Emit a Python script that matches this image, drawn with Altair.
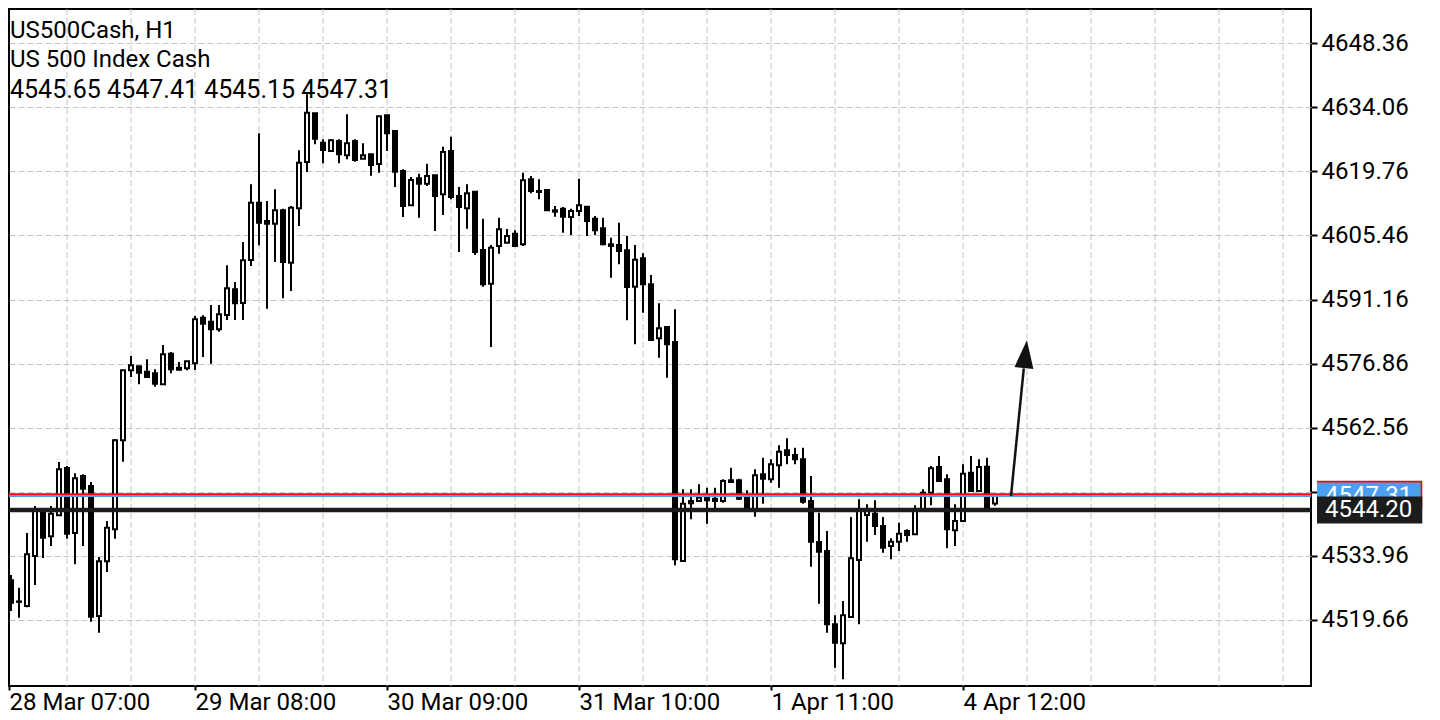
import altair as alt
import pandas as pd

# ---------------- data (H1 candles, bars 1..124 after the 28 Mar 07:00 bar) ----------------
opens = [4528.52, 4523.80, 4522.78, 4533.94, 4543.60, 4538.33, 4543.02, 4553.57, 4539.07, 4551.79,
         4549.56, 4520.55, 4532.76, 4539.90, 4559.75, 4575.37, 4576.26, 4575.06, 4574.70, 4572.24,
         4579.07, 4575.95, 4575.81, 4576.93, 4587.10, 4586.21, 4584.52, 4587.71, 4593.44, 4590.38,
         4599.98, 4612.76, 4608.68, 4608.07, 4611.06, 4599.37, 4611.51, 4621.84, 4632.70, 4626.15,
         4624.29, 4626.52, 4623.33, 4626.52, 4622.58, 4623.56, 4621.39, 4632.26, 4628.75, 4619.83,
         4612.18, 4618.20, 4617.00, 4618.87, 4614.63, 4624.29, 4614.25, 4611.51, 4615.21, 4602.21,
         4594.69, 4603.10, 4603.84, 4605.84, 4603.48, 4617.98, 4615.37, 4615.59, 4611.06, 4611.42,
         4609.57, 4610.91, 4611.87, 4609.19, 4607.05, 4603.48, 4603.32, 4602.14, 4594.02, 4600.36,
         4594.56, 4582.51, 4585.03, 4581.68, 4532.82, 4546.21, 4546.21, 4547.17, 4546.72, 4546.21,
         4550.83, 4550.83, 4547.10, 4544.36, 4552.17, 4551.05, 4554.17, 4557.52, 4556.47, 4555.51,
         4546.21, 4537.06, 4535.05, 4518.70, 4514.46, 4520.33, 4533.05, 4543.09, 4543.38, 4540.63,
         4536.17, 4537.13, 4539.52, 4538.78, 4544.36, 4548.06, 4553.79, 4551.05, 4539.67, 4541.75,
         4552.52, 4548.44, 4553.86, 4545.65]
highs = [4529.70, 4526.87, 4539.07, 4545.09, 4544.00, 4545.09, 4554.91, 4554.02, 4552.39, 4552.17,
         4550.45, 4533.72, 4541.75, 4559.97, 4575.44, 4578.56, 4576.30, 4577.82, 4575.59, 4581.01,
         4579.45, 4577.22, 4577.40, 4587.48, 4587.64, 4589.94, 4589.94, 4598.79, 4595.07, 4603.99,
         4616.86, 4628.24, 4613.14, 4615.75, 4611.42, 4612.02, 4624.45, 4636.94, 4632.80, 4626.90,
         4626.90, 4626.90, 4632.48, 4626.90, 4626.01, 4623.60, 4632.10, 4632.30, 4628.80, 4620.21,
         4618.49, 4619.23, 4621.46, 4618.90, 4625.25, 4627.48, 4616.26, 4616.86, 4615.30, 4609.19,
         4603.32, 4609.41, 4606.89, 4606.60, 4619.45, 4618.72, 4617.98, 4615.75, 4612.02, 4611.80,
         4611.42, 4618.11, 4612.02, 4609.79, 4609.41, 4604.95, 4608.30, 4605.33, 4603.32, 4601.47,
         4596.63, 4590.32, 4585.10, 4588.98, 4548.82, 4548.82, 4549.93, 4549.18, 4549.18, 4551.05,
         4553.64, 4551.18, 4548.60, 4553.28, 4555.87, 4555.51, 4558.64, 4560.20, 4558.10, 4558.10,
         4551.79, 4543.60, 4539.52, 4520.71, 4523.90, 4542.64, 4546.59, 4545.47, 4546.37, 4542.64,
         4537.89, 4541.37, 4539.90, 4545.25, 4548.82, 4554.02, 4556.25, 4552.17, 4545.47, 4554.40,
         4556.25, 4555.51, 4555.87, 4547.41]
lows = [4521.67, 4520.17, 4522.50, 4527.47, 4533.49, 4536.17, 4542.90, 4537.80, 4532.09, 4536.17,
        4519.28, 4516.83, 4530.37, 4537.80, 4554.98, 4573.87, 4572.24, 4573.80, 4571.71, 4572.20,
        4574.70, 4575.37, 4575.37, 4575.44, 4578.34, 4576.84, 4583.98, 4586.59, 4586.59, 4586.59,
        4598.64, 4603.26, 4589.11, 4599.53, 4591.43, 4593.06, 4607.56, 4619.61, 4625.79, 4621.55,
        4624.20, 4621.55, 4622.44, 4621.91, 4622.50, 4618.78, 4619.45, 4624.29, 4616.26, 4609.57,
        4612.10, 4609.41, 4616.49, 4606.45, 4610.02, 4613.52, 4601.76, 4606.96, 4601.09, 4594.02,
        4580.57, 4601.38, 4603.80, 4602.88, 4603.10, 4614.86, 4613.52, 4611.00, 4609.64, 4606.07,
        4605.55, 4609.79, 4605.33, 4605.55, 4603.26, 4596.03, 4599.02, 4586.52, 4581.17, 4588.22,
        4582.00, 4578.18, 4573.72, 4531.86, 4532.70, 4542.13, 4545.99, 4541.14, 4544.49, 4545.83,
        4550.29, 4546.43, 4543.98, 4542.71, 4545.61, 4550.29, 4549.18, 4554.40, 4554.40, 4545.61,
        4531.55, 4523.30, 4516.83, 4509.02, 4506.43, 4520.30, 4518.70, 4537.13, 4538.62, 4534.67,
        4533.20, 4535.05, 4537.13, 4538.62, 4544.30, 4545.25, 4550.60, 4535.66, 4536.17, 4541.70,
        4548.40, 4548.40, 4544.36, 4545.15]
closes = [4523.52, 4523.70, 4534.32, 4543.98, 4538.02, 4543.38, 4553.28, 4538.91, 4551.27, 4548.95,
          4520.40, 4532.76, 4540.25, 4559.75, 4575.37, 4576.48, 4574.83, 4573.87, 4572.38, 4578.94,
          4575.59, 4575.50, 4577.38, 4586.75, 4585.77, 4584.52, 4587.86, 4593.66, 4590.32, 4599.91,
          4612.76, 4608.30, 4608.07, 4611.06, 4599.53, 4611.64, 4621.68, 4632.84, 4627.04, 4624.52,
          4626.68, 4623.56, 4626.01, 4622.29, 4623.33, 4621.17, 4632.04, 4628.24, 4619.68, 4612.02,
          4617.82, 4617.00, 4618.72, 4614.25, 4624.07, 4614.03, 4611.80, 4614.86, 4601.76, 4594.56,
          4602.72, 4606.82, 4605.33, 4603.10, 4617.76, 4615.37, 4615.15, 4611.06, 4610.75, 4609.64,
          4610.91, 4612.18, 4608.68, 4606.60, 4603.48, 4603.10, 4601.98, 4593.95, 4600.04, 4594.56,
          4582.13, 4584.74, 4581.17, 4533.20, 4545.61, 4545.70, 4546.95, 4546.37, 4546.21, 4550.67,
          4550.45, 4546.72, 4544.36, 4551.94, 4551.18, 4554.40, 4557.21, 4556.47, 4555.51, 4546.05,
          4537.13, 4534.90, 4518.70, 4514.60, 4520.71, 4533.43, 4543.98, 4543.98, 4540.63, 4535.79,
          4537.13, 4538.91, 4538.62, 4544.13, 4548.06, 4553.50, 4550.67, 4539.90, 4541.75, 4552.30,
          4548.44, 4553.79, 4544.87, 4547.31]

x_tick_bars = [0, 24, 48, 72, 96, 120]
x_tick_labels = ["28 Mar 07:00", "29 Mar 08:00", "30 Mar 09:00", "31 Mar 10:00", "1 Apr 11:00", "4 Apr 12:00"]
y_ticks = [4519.66, 4533.96, 4548.26, 4562.56, 4576.86, 4591.16, 4605.46, 4619.76, 4634.06, 4648.36]
grid_bars = list(range(8, 161, 8))

ask_price = 4547.71
bid_price = 4547.31
level_price = 4544.20

symbol_line = "US500Cash, H1"
name_line = "US 500 Index Cash"

# arrow annotation (bar index, price)
arrow_start = (126.0, 4547.36)
arrow_end = (127.6, 4575.8)
arrow_head = (127.8, 4578.97)

# ---------------- layout ----------------
W, H = 1302, 677
X_DOMAIN = [0.75, 163.5]
Y_DOMAIN = [4504.93, 4655.98]
FONT = "Roboto"
FS = 24
GRID = "#c4c4c4"

df = pd.DataFrame({"bar": list(range(1, 1 + len(opens))), "open": opens, "high": highs,
                   "low": lows, "close": closes})

xscale = alt.Scale(domain=X_DOMAIN, nice=False, zero=False, padding=0)
yscale = alt.Scale(domain=Y_DOMAIN, nice=False, zero=False, padding=0)

label_array = "[" + ",".join("'" + s + "'" for s in x_tick_labels) + "]"
xaxis = alt.Axis(values=[max(v, X_DOMAIN[0]) for v in x_tick_bars],
                 labelExpr=label_array + "[round(datum.value / 24)]",
                 grid=False, domain=False, ticks=True, tickSize=4, tickWidth=2, tickColor="black",
                 labelFont=FONT, labelFontSize=FS, labelColor="black", labelAlign="left",
                 labelBaseline="top", labelPadding=0, labelFlush=False, labelOverlap=False, title=None)
yaxis = alt.Axis(orient="right", values=y_ticks, format=".2f", grid=True, gridColor=GRID,
                 gridDash=[6, 3], gridWidth=1, domain=False, ticks=True, tickSize=6, tickWidth=2,
                 tickColor="black", labelFont=FONT, labelFontSize=FS, labelColor="black",
                 labelPadding=4, labelFlush=False, labelOverlap=False, title=None)


def X(field):
    return alt.X(field, scale=xscale, axis=xaxis)


def Y(field):
    return alt.Y(field, scale=yscale, axis=yaxis)


vgrid = alt.Chart(pd.DataFrame({"g": grid_bars})).mark_rule(
    color=GRID, strokeDash=[6, 3], strokeWidth=1).encode(x=X("g:Q"))

wicks = alt.Chart(df).mark_rule(color="black", strokeWidth=2, clip=True).encode(
    x=X("bar:Q"), y=Y("low:Q"), y2="high:Q")

bodies = alt.Chart(df).mark_bar(size=4, stroke="black", strokeWidth=2, clip=True).encode(
    x=X("bar:Q"), y=Y("open:Q"), y2="close:Q",
    fill=alt.condition("datum.close >= datum.open", alt.value("white"), alt.value("black")))


def hline(price, color, width):
    return alt.Chart(pd.DataFrame({"p": [price]})).mark_rule(color=color, strokeWidth=width).encode(
        y=Y("p:Q"))


ask_line = hline(ask_price, "#ff0000", 2)
bid_line = hline(bid_price, "#4a9ff0", 2)
level_line = hline(level_price, "#1c1c1c", 4.5)

arrow_df = pd.DataFrame({"x": [arrow_start[0]], "y": [arrow_start[1]],
                         "x2": [arrow_end[0]], "y2": [arrow_end[1]],
                         "hx": [arrow_head[0]], "hy": [arrow_head[1]]})
shaft = alt.Chart(arrow_df).mark_rule(color="#111111", strokeWidth=2.5).encode(
    x=X("x:Q"), x2="x2:Q", y=Y("y:Q"), y2="y2:Q")
head = alt.Chart(arrow_df).mark_point(shape="M0,-1L0.68,1L-0.68,1Z", filled=True, size=784,
                                      angle=6, color="#111111", opacity=1).encode(
    x=X("hx:Q"), y=Y("hy:Q"))


def price_box(price, color, x2):
    return alt.Chart(pd.DataFrame({"p": [price]})).transform_calculate(
        top="datum.p + 3.0", bot="datum.p - 3.0").mark_rect(color=color).encode(
        x=alt.value(W + 6), x2=alt.value(W + x2), y=Y("top:Q"), y2="bot:Q")


def price_text(price):
    return alt.Chart(pd.DataFrame({"p": [price], "t": [f"{price:.2f}"]})).mark_text(
        align="left", baseline="middle", font=FONT, fontSize=FS, color="white").encode(
        x=alt.value(W + 14), y=Y("p:Q"), text="t:N")


ask_box = price_box(ask_price, "#ff0000", 111.3)
bid_box = price_box(bid_price, "#4a9ff0", 109.7)
bid_txt = price_text(bid_price)
lvl_box = price_box(level_price, "#1c1c1c", 111.3)
lvl_txt = price_text(level_price)

ohlc_line = " ".join(f"{v:.2f}" for v in (opens[-1], highs[-1], lows[-1], closes[-1]))


def info(text, ypix, size=FS):
    return alt.Chart(pd.DataFrame({"t": [text]})).mark_text(
        align="left", baseline="alphabetic", font=FONT, fontSize=size, color="black").encode(
        x=alt.value(1), y=alt.value(ypix), text="t:N")


chart = alt.layer(
    vgrid, wicks, bodies, ask_line, bid_line, level_line, shaft, head,
    ask_box, bid_box, bid_txt, lvl_box, lvl_txt,
    info(symbol_line, 28.7), info(name_line, 58.0), info(ohlc_line, 89.3, 25),
).properties(width=W, height=H, padding={"left": -2, "top": 0, "right": 0, "bottom": 0},
             background="white").configure_view(stroke="black", strokeWidth=2)

chart.save("out.html", embed_options={"renderer": "svg", "actions": False})
